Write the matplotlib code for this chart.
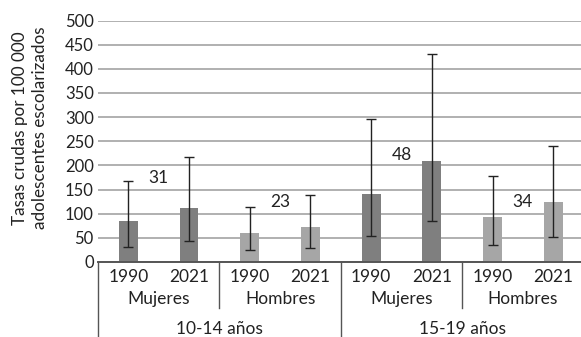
import matplotlib.pyplot as plt
import matplotlib.transforms as mtransforms
import numpy as np

plt.rcParams['font.family'] = ['Lato', 'DejaVu Sans']

years = ["1990", "2021", "1990", "2021", "1990", "2021", "1990", "2021"]
sexes = ["Mujeres", "Hombres", "Mujeres", "Hombres"]
ages = ["10-14 años", "15-19 años"]
rates = [85, 111, 60, 72, 141, 209, 93, 124]
err_low = [31, 43, 25, 30, 53, 84, 36, 52]
err_high = [168, 218, 113, 138, 296, 430, 179, 240]
pct_change = ["31", "23", "48", "34"]
pct_pos = [(0.5, 174), (2.5, 125), (4.5, 222), (6.5, 124)]

dark = "#7f7f7f"
light = "#a6a6a6"
colors = [dark, dark, light, light, dark, dark, light, light]

fig = plt.figure(figsize=(5.81, 3.37), dpi=100)
ax = fig.add_axes([98 / 581, 75 / 337, 485.6 / 581, 241.5 / 337])

x = np.arange(len(rates))
ax.set_axisbelow(True)
ax.bar(x, rates, width=0.31, color=colors, zorder=2)
rates_arr = np.array(rates)
yerr = [rates_arr - np.array(err_low), np.array(err_high) - rates_arr]
ax.errorbar(x, rates, yerr=yerr, fmt="none", ecolor="#222222", elinewidth=1.0,
            capsize=3.5, capthick=1.0, zorder=3)

for txt, (px, py) in zip(pct_change, pct_pos):
    ax.text(px, py, txt, ha="center", va="center", fontsize=12.5, color="#222222")

ax.set_xlim(-0.5, 7.5)
ax.set_ylim(0, 500)
ax.set_yticks(np.arange(0, 501, 50))
ax.yaxis.grid(True, color="#b0b0b0", linewidth=1.4)
ax.tick_params(axis="y", length=0, labelsize=12, pad=3, colors="#222222")
ax.tick_params(axis="x", length=0, labelbottom=False)
for side in ["top", "right", "left"]:
    ax.spines[side].set_visible(False)
ax.spines["bottom"].set_color("#555555")
ax.spines["bottom"].set_linewidth(1.4)

fig.text(30 / 581, 1 - 128 / 337,
         "Tasas crudas por 100 000\nadolescentes escolarizados",
         rotation=90, ha="center", va="center", fontsize=12.3,
         color="#222222", linespacing=1.3)

# category labels below the axis, in data x / axes-fraction y
trans = mtransforms.blended_transform_factory(ax.transData, ax.transAxes)
px_to_ax = 1 / 241.5
for i, yr in enumerate(years):
    ax.text(i, -15.5 * px_to_ax, yr, transform=trans, ha="center", va="center",
            fontsize=12.5, color="#222222")
for j, sx in enumerate(sexes):
    ax.text(2 * j + 0.5, -37 * px_to_ax, sx, transform=trans, ha="center",
            va="center", fontsize=12.5, color="#222222")
for k, ag in enumerate(ages):
    ax.text(4 * k + 1.5, -67 * px_to_ax, ag, transform=trans, ha="center",
            va="center", fontsize=12.5, color="#222222")

# separator lines between groups
for xs in [1.5, 5.5]:
    ax.plot([xs, xs], [0, -46 * px_to_ax], transform=trans, color="#555555",
            linewidth=1.0, clip_on=False)
for xs in [-0.5, 3.5]:
    ax.plot([xs, xs], [0, -80 * px_to_ax], transform=trans, color="#555555",
            linewidth=1.0, clip_on=False)

fig.savefig("out.png", dpi=100)
